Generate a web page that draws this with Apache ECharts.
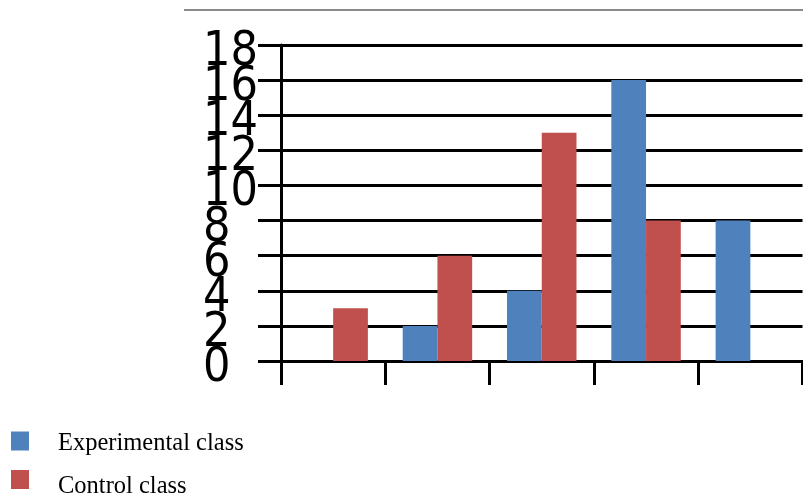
<!DOCTYPE html>
<html>
<head>
<meta charset="utf-8">
<style>
  html, body { margin: 0; padding: 0; background: #fff; }
  #chart { width: 803px; height: 498px; }
</style>
<script src="https://cdn.jsdelivr.net/npm/echarts@6/dist/echarts.min.js"></script>
</head>
<body>
<div id="chart"></div>
<script>
// Groups along the horizontal axis (unlabelled in the figure)
const categories = ['1', '2', '3', '4', '5'];
// Number of students per group
const experimentalClass = [0, 2, 4, 16, 8];
const controlClass = [3, 6, 13, 8, 0];
// Vertical scale
const yMin = 0;
const yMax = 18;
const yStep = 2;

const seriesNames = ['Experimental class', 'Control class'];
const seriesColors = ['#4F81BD', '#C0504D'];

const chart = echarts.init(document.getElementById('chart'), null, { renderer: 'canvas' });

// Legend caption: serif text pushed right of the swatch, and down by topPad
function legendText(topPad) {
  return {
    color: '#000',
    rich: {
      t: {
        fontFamily: '"Liberation Serif", "Times New Roman", serif',
        fontSize: 24.5,
        color: '#000',
        padding: [topPad, 0, 0, 24]
      }
    }
  };
}
function legendFormatter(name) { return '{t|' + name + '}'; }

// Large, tightly packed tick numbers, nudged a little below their ticks
const tickRich = {
  n: {
    fontFamily: '"DejaVu Sans Condensed", "DejaVu Sans", sans-serif',
    fontSize: 48,
    color: '#000',
    padding: [15, 0, 0, 0]
  }
};

const yTick = { show: true, length: 23, lineStyle: { color: '#000', width: 3 } };

chart.setOption({
  animation: false,
  backgroundColor: '#ffffff',
  grid: { left: 281, right: 0.5, top: 45, bottom: 137, containLabel: false },
  legend: [
    {
      left: 6, top: 426,
      itemWidth: 18, itemHeight: 19,
      icon: 'rect',
      formatter: legendFormatter,
      textStyle: legendText(5),
      data: [seriesNames[0]]
    },
    {
      left: 6, top: 465,
      itemWidth: 18, itemHeight: 19,
      icon: 'rect',
      formatter: legendFormatter,
      textStyle: legendText(15),
      data: [seriesNames[1]]
    }
  ],
  xAxis: {
    type: 'category',
    data: categories,
    boundaryGap: true,
    axisLine: { show: true, lineStyle: { color: '#000', width: 3 } },
    axisTick: { show: true, length: 24, lineStyle: { color: '#000', width: 3 } },
    axisLabel: { show: false },
    splitLine: { show: false }
  },
  yAxis: [
    {
      // main value axis: line, ticks, grid and the inner tick numbers
      type: 'value',
      min: yMin,
      max: yMax,
      interval: yStep,
      axisLine: { show: true, lineStyle: { color: '#000', width: 3 } },
      axisTick: yTick,
      axisLabel: {
        show: true,
        margin: 78,
        align: 'left',
        formatter: function (v) { return '{n|' + v + '}'; },
        rich: tickRich
      },
      splitLine: { show: true, lineStyle: { color: '#000', width: 3 } }
    },
    {
      // same scale, carries the end numbers (min and max) and their ticks
      type: 'value',
      position: 'left',
      min: yMin,
      max: yMax,
      interval: yStep,
      axisLine: { show: false },
      axisTick: yTick,
      splitLine: { show: false },
      axisLabel: {
        show: true,
        margin: 78,
        align: 'left',
        showMinLabel: true,
        showMaxLabel: true,
        formatter: function (v) { return (v === yMin || v === yMax) ? '{n|' + v + '}' : ''; },
        rich: tickRich
      }
    }
  ],
  series: [
    {
      name: seriesNames[0],
      type: 'bar',
      yAxisIndex: 0,
      data: experimentalClass,
      barWidth: '33.3%',
      barGap: '0%',
      itemStyle: { color: seriesColors[0] }
    },
    {
      name: seriesNames[1],
      type: 'bar',
      yAxisIndex: 0,
      data: controlClass,
      barWidth: '33.3%',
      barGap: '0%',
      itemStyle: { color: seriesColors[1] }
    }
  ],
  graphic: [
    {
      type: 'line',
      shape: { x1: 184, y1: 10, x2: 803, y2: 10 },
      style: { stroke: '#8a8a8a', lineWidth: 2 }
    }
  ]
});
</script>
</body>
</html>
